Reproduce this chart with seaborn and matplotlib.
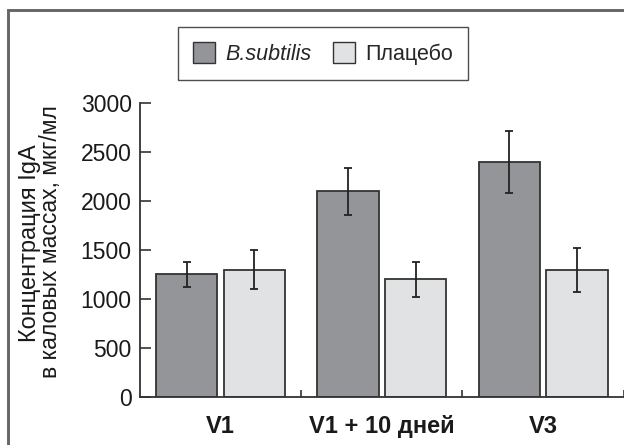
import pandas as pd
import seaborn as sns
import matplotlib.pyplot as plt
from matplotlib.patches import Rectangle

# data
visits = ['V1', 'V1 + 10 дней', 'V3']
groups = ['B.subtilis', 'Плацебо']
bsub_mean = [1250, 2100, 2400]
bsub_err = [130, 240, 315]
plac_mean = [1300, 1200, 1300]
plac_err = [195, 175, 225]
ylabel_1 = 'Концентрация IgA'
ylabel_2 = 'в каловых массах, мкг/мл'

df = pd.DataFrame({
  'visit': visits * 2,
  'group': [groups[0]] * 3 + [groups[1]] * 3,
  'value': bsub_mean + plac_mean,
  'err': bsub_err + plac_err,
})

sns.set_theme(style='white')
plt.rcParams['font.family'] = ['Liberation Sans', 'DejaVu Sans']

fig = plt.figure(figsize=(6.24, 4.45), dpi=100)
ax = fig.add_axes([0.2244, 0.108, 0.775, 0.6605])

palette = {groups[0]: '#939598', groups[1]: '#e1e2e3'}
sns.barplot(data=df, x='visit', y='value', hue='group', order=visits,
            hue_order=groups, palette=palette, width=0.84, gap=0.095,
            errorbar=None, edgecolor='#333333', linewidth=1.3,
            saturation=1, legend=False, ax=ax)

# error bars placed at the bar centres seaborn drew
bars = [p for p in ax.patches if p.get_height() > 0]
xs = [b.get_x() + b.get_width() / 2 for b in bars]
ax.errorbar(xs, df['value'], yerr=df['err'], fmt='none', ecolor='#222222',
            elinewidth=1.3, capsize=3, capthick=1.3)

ax.set_xlim(-0.5, 2.5)
ax.set_ylim(0, 3000)
ax.set_yticks(range(0, 3001, 500))
ax.set_xlabel('')
ax.set_ylabel('')
sns.despine(ax=ax)
for s in ['left', 'bottom']:
  ax.spines[s].set_color('#333333')
  ax.spines[s].set_linewidth(1.3)

ax.tick_params(axis='y', direction='in', length=8, width=1.2,
               color='#333333', labelsize=16.5, pad=6, left=True,
               labelcolor='#1a1a1a')
ax.tick_params(axis='x', length=0, labelsize=17, pad=13, labelcolor='#1a1a1a')
for t in ax.get_xticklabels():
  t.set_fontweight('bold')
ax.set_xticks([0.5, 1.5, 2.5], minor=True)
ax.tick_params(axis='x', which='minor', direction='in', length=5, width=1.2,
               color='#333333', bottom=True)

# two-line y label
fig.text(30 / 624, 1 - 243 / 445, ylabel_1, rotation=90, ha='center',
         va='center', fontsize=17, color='#1a1a1a')
fig.text(51 / 624, 1 - 242 / 445, ylabel_2, rotation=90, ha='center',
         va='center', fontsize=16.5, color='#1a1a1a')

# legend
handles = [Rectangle((0, 0), 1, 1, facecolor=palette[g], edgecolor='#333333',
                     linewidth=1.0) for g in groups]
leg = fig.legend(handles, groups, loc='center', bbox_to_anchor=(0.518, 0.88),
                 ncol=2, frameon=True, fancybox=False, fontsize=15.5,
                 handlelength=1.0, handleheight=1.1, columnspacing=1.0,
                 handletextpad=0.5, borderpad=0.7)
leg.get_frame().set_edgecolor('#222222')
leg.get_frame().set_linewidth(1.0)
leg.get_texts()[0].set_fontstyle('italic')

# outer frame of the figure panel (only top and left edges are in view)
fig.patches.append(Rectangle((8 / 624, -0.1), 1.1, 1 - 10 / 445 + 0.1,
                             transform=fig.transFigure, fill=False,
                             edgecolor='#666666', linewidth=2.1))

fig.savefig('out.png', dpi=100)
